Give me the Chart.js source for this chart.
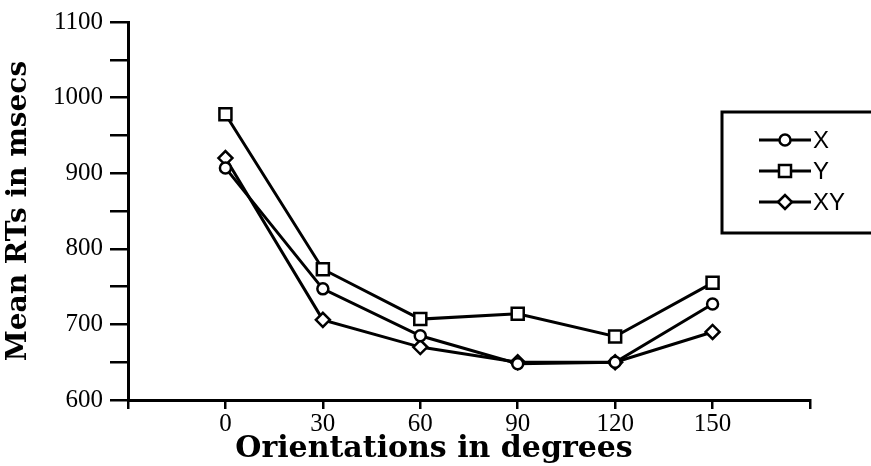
<!DOCTYPE html>
<html>
<head>
<meta charset="utf-8">
<script src="https://cdn.jsdelivr.net/npm/chart.js@4.4.0/dist/chart.umd.min.js"></script>
<style>
  body { margin: 0; background: #fff; }
  #chart-rt { display: block; }
</style>
</head>
<body>
<canvas id="chart-rt" width="871" height="466"></canvas>
<script>
// orientation (degrees) and mean RTs per condition
const orientations = [0, 30, 60, 90, 120, 150];
const rtX  = [907, 747, 685, 648, 650, 727];
const rtY  = [978, 773, 707, 714, 684, 755];
const rtXY = [920, 706, 670, 650, 650, 690];
const seriesNames = ['X', 'Y', 'XY'];
const yLabels = [600, 700, 800, 900, 1000, 1100];
const xTitle = 'Orientations in degrees';
const yTitle = 'Mean RTs in msecs';

const toPoints = (vals) => orientations.map((o, i) => ({ x: o, y: vals[i] }));

const markerStyle = [
  { pointStyle: 'circle', radius: 5.5 },
  { pointStyle: 'rect', radius: 8.5 },
  { pointStyle: 'rectRot', radius: 7 }
];

const makeSet = (i, vals) => ({
  label: seriesNames[i],
  data: toPoints(vals),
  borderColor: '#000',
  borderWidth: 3,
  backgroundColor: '#fff',
  pointStyle: markerStyle[i].pointStyle,
  pointRadius: markerStyle[i].radius,
  pointBorderWidth: 2.5,
  pointBorderColor: '#000',
  pointBackgroundColor: '#fff',
  tension: 0
});

// boxed legend on the right (line + marker + name) and the x-axis title
const boxLegend = {
  id: 'boxLegend',
  afterDraw(chart) {
    const ctx = chart.ctx;
    const left = 722, top = 112, bottom = 233;
    ctx.save();
    ctx.fillStyle = '#fff';
    ctx.fillRect(left, top, 871 - left, bottom - top);
    ctx.strokeStyle = '#000';
    ctx.lineWidth = 3;
    ctx.beginPath();
    ctx.moveTo(875, top);
    ctx.lineTo(left, top);
    ctx.lineTo(left, bottom);
    ctx.lineTo(875, bottom);
    ctx.stroke();

    chart.data.datasets.forEach((ds, i) => {
      const y = 140 + i * 31;
      ctx.strokeStyle = '#000';
      ctx.lineWidth = 3;
      ctx.beginPath();
      ctx.moveTo(759, y);
      ctx.lineTo(811, y);
      ctx.stroke();
      ctx.fillStyle = '#fff';
      ctx.lineWidth = 2.5;
      Chart.helpers.drawPoint(ctx, {
        pointStyle: ds.pointStyle,
        radius: ds.pointRadius,
        borderWidth: 2.5
      }, 785, y);
      ctx.fillStyle = '#000';
      ctx.font = '24px "Liberation Sans"';
      ctx.textBaseline = 'middle';
      ctx.fillText(ds.label, 813, y + 1);
    });

    ctx.font = 'bold 30px "DejaVu Serif"';
    ctx.textAlign = 'center';
    ctx.textBaseline = 'alphabetic';
    ctx.fillText(xTitle, 434, 457);
    ctx.restore();
  }
};

new Chart(document.getElementById('chart-rt'), {
  type: 'line',
  data: {
    datasets: [makeSet(0, rtX), makeSet(1, rtY), makeSet(2, rtXY)]
  },
  options: {
    responsive: false,
    animation: false,
    layout: { padding: { left: 0, right: 61, top: 22, bottom: 0 } },
    plugins: {
      legend: { display: false },
      tooltip: { enabled: false }
    },
    scales: {
      x: {
        type: 'linear',
        min: -30,
        max: 180,
        border: { color: '#000', width: 3 },
        grid: { drawOnChartArea: false, color: '#000', lineWidth: 2.5, tickLength: 9 },
        afterFit: (scale) => { scale.height = 66; },
        ticks: {
          stepSize: 30,
          color: '#000',
          padding: 0,
          font: { family: '"Liberation Serif"', size: 25 },
          callback: (v) => orientations.includes(v) ? v : ''
        }
      },
      y: {
        min: 600,
        max: 1100,
        border: { color: '#000', width: 3 },
        grid: { drawOnChartArea: false, color: '#000', lineWidth: 2.5, tickLength: 18 },
        afterFit: (scale) => { scale.width = 128; },
        ticks: {
          stepSize: 50,
          color: '#000',
          padding: 7,
          font: { family: '"Liberation Serif"', size: 25 },
          callback: (v) => yLabels.includes(v) ? v : ''
        },
        title: {
          display: true,
          text: yTitle,
          color: '#000',
          padding: { top: 2, bottom: 0 },
          font: { family: '"DejaVu Serif"', size: 28, weight: 'bold' }
        }
      }
    }
  },
  plugins: [boxLegend]
});
</script>
</body>
</html>
